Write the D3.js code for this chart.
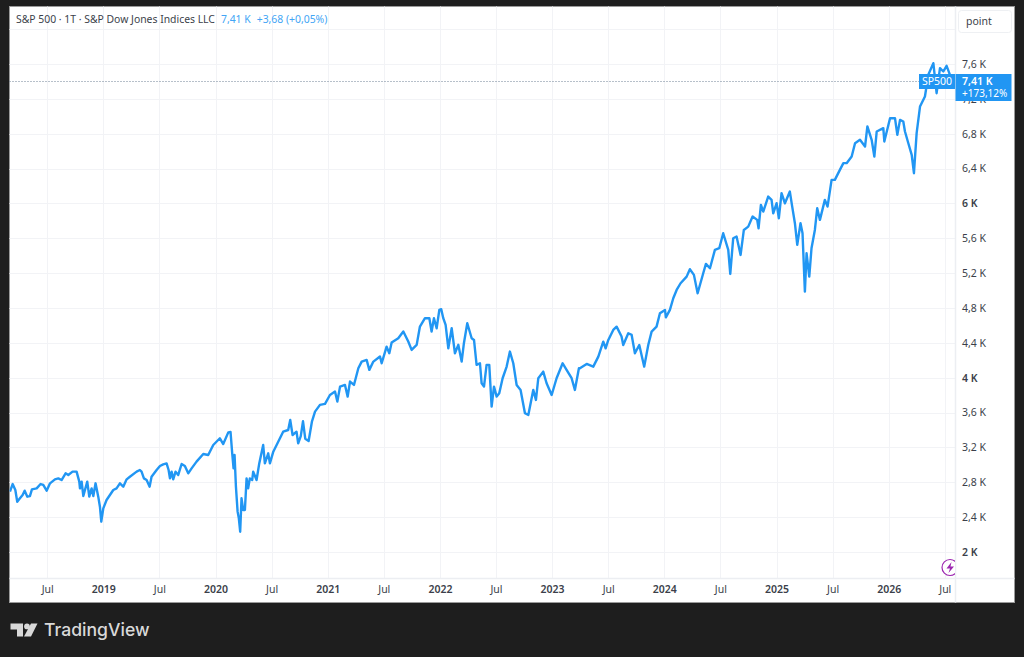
<!DOCTYPE html>
<html>
<head>
<meta charset="utf-8">
<script src="https://cdn.jsdelivr.net/npm/d3@7"></script>
<style>
  html, body { margin: 0; padding: 0; background: #1e1e1e; }
  svg { display: block; }
  text { font-family: "Noto Sans", "Open Sans", sans-serif; }
</style>
</head>
<body>
<div id="graph"></div>
<script>
// position in calendar years of each reading
var years = [
  2018.168,2018.192,2018.216,2018.233,2018.257,2018.281,2018.299,2018.323,2018.346,2018.364,
  2018.406,2018.441,2018.465,2018.495,2018.525,2018.569,2018.599,2018.628,2018.664,2018.688,
  2018.726,2018.762,2018.786,2018.792,2018.807,2018.822,2018.857,2018.875,2018.896,2018.911,
  2018.931,2018.955,2018.970,2018.982,2019.000,2019.029,2019.089,2019.118,2019.148,2019.178,
  2019.208,2019.237,2019.297,2019.326,2019.341,2019.362,2019.386,2019.413,2019.430,2019.475,
  2019.505,2019.534,2019.564,2019.582,2019.594,2019.609,2019.623,2019.644,2019.668,2019.698,
  2019.727,2019.757,2019.787,2019.831,2019.891,2019.935,2019.980,2020.039,2020.069,2020.114,
  2020.134,2020.149,2020.161,2020.170,2020.182,2020.197,2020.208,2020.220,2020.232,2020.247,
  2020.262,2020.277,2020.291,2020.306,2020.327,2020.336,2020.366,2020.390,2020.425,2020.440,
  2020.470,2020.485,2020.515,2020.559,2020.603,2020.648,2020.666,2020.687,2020.722,2020.737,
  2020.760,2020.780,2020.800,2020.830,2020.860,
  2020.887,2020.931,2020.976,2021.020,2021.065,2021.086,2021.110,2021.154,2021.178,2021.199,
  2021.234,2021.273,2021.303,2021.347,2021.371,2021.407,2021.466,2021.481,2021.525,2021.549,
  2021.570,2021.629,2021.674,2021.718,2021.748,2021.793,2021.822,2021.867,2021.906,2021.926,
  2021.947,2021.971,2021.995,2022.012,2022.030,2022.051,2022.075,2022.105,2022.134,2022.164,
  2022.194,2022.214,2022.244,2022.283,2022.304,2022.327,2022.357,2022.372,2022.393,2022.416,
  2022.440,2022.461,2022.482,2022.506,2022.529,2022.559,2022.595,2022.624,2022.654,2022.684,
  2022.719,2022.758,2022.788,2022.832,2022.856,2022.877,2022.921,2022.951,2022.996,2023.040,
  2023.094,2023.129,2023.174,2023.203,2023.239,
  2023.248,2023.308,2023.367,2023.412,2023.456,2023.477,2023.501,2023.545,2023.575,2023.619,
  2023.634,2023.679,2023.709,2023.738,2023.777,2023.821,2023.857,2023.887,2023.931,2023.961,
  2024.006,2024.014,2024.050,2024.080,2024.110,2024.145,2024.199,2024.228,2024.264,2024.297,
  2024.347,2024.371,2024.407,2024.451,2024.490,2024.525,2024.570,2024.588,2024.614,2024.644,
  2024.680,2024.709,2024.748,2024.787,2024.828,2024.840,2024.861,2024.882,2024.926,2024.956,
  2024.971,2025.001,2025.021,2025.045,2025.075,2025.119,2025.140,2025.164,2025.185,2025.214,
  2025.232,2025.253,2025.268,2025.292,2025.312,2025.342,2025.363,2025.387,2025.431,2025.455,
  2025.491,2025.520,2025.565,
  2025.596,2025.625,2025.670,2025.700,2025.744,2025.789,2025.810,2025.848,2025.872,2025.893,
  2025.952,2025.961,2026.012,2026.056,2026.077,2026.101,2026.130,2026.145,2026.175,2026.205,
  2026.225,2026.249,2026.279,2026.323,2026.353,2026.398,2026.427,2026.457,2026.487,2026.516,
  2026.546,2026.555
];

// S&P 500 close
var closes = [
  2692,2780,2711,2577,2616,2654,2704,2635,2642,2719,
  2730,2780,2769,2704,2788,2834,2845,2826,2903,2884,
  2922,2922,2807,2730,2807,2642,2807,2635,2730,2642,
  2788,2635,2520,2348,2501,2597,2711,2730,2788,2750,
  2834,2864,2922,2941,2922,2845,2826,2750,2864,2941,
  2987,3006,3017,2941,2845,2922,2834,2922,2884,3010,
  2987,2903,2960,3037,3125,3113,3228,3305,3239,3373,
  3377,3132,2960,3113,2750,2463,2386,2233,2616,2482,
  2482,2845,2730,2845,2826,2922,2826,3017,3228,3017,
  3132,3017,3151,3266,3381,3400,3515,3343,3381,3247,
  3330,3500,3300,3274,3500,
  3611,3688,3699,3802,3841,3726,3898,3917,3783,3956,
  3917,4109,4185,4204,4090,4185,4243,4166,4357,4281,
  4403,4453,4530,4415,4319,4377,4587,4683,4683,4530,
  4683,4568,4778,4786,4683,4606,4338,4568,4281,4377,
  4185,4396,4625,4453,4434,4147,4166,3936,3898,4147,
  4147,3669,3898,3783,3822,3994,4128,4300,4166,3917,
  3860,3592,3573,3860,3745,3994,4070,3936,3802,3994,
  4166,4090,3994,3860,4109,
  4108,4158,4127,4242,4414,4338,4433,4548,4586,4472,
  4376,4510,4491,4280,4376,4127,4376,4529,4586,4739,
  4778,4693,4778,4912,5007,5084,5160,5245,5180,4969,
  5199,5306,5256,5467,5486,5658,5467,5191,5600,5620,
  5409,5696,5734,5849,5811,5715,5983,5907,6079,6041,
  5887,6002,5830,6117,6002,6136,5964,5773,5524,5773,
  5658,4988,5428,5160,5486,5696,5945,5811,6041,5964,
  6270,6270,6385,
  6462,6462,6538,6691,6730,6653,6883,6730,6538,6825,
  6864,6711,6978,6978,6787,6959,6940,6825,6691,6557,
  6347,6806,7112,7227,7476,7610,7265,7552,7514,7579,
  7476,7410
];

var yTicks = [2000,2400,2800,3200,3600,4000,4400,4800,5200,5600,6000,6400,6800,7200,7600,8000];
var yLabels = ['2 K','2,4 K','2,8 K','3,2 K','3,6 K','4 K','4,4 K','4,8 K','5,2 K','5,6 K','6 K','6,4 K','6,8 K','7,2 K','7,6 K',''];
var xTicks = [2018.5,2019,2019.5,2020,2020.5,2021,2021.5,2022,2022.5,2023,2023.5,2024,2024.5,2025,2025.5,2026,2026.5];
var xLabels = ['Jul','2019','Jul','2020','Jul','2021','Jul','2022','Jul','2023','Jul','2024','Jul','2025','Jul','2026','Jul'];
var lastPrice = 7410;

var width = 1024;
var height = 657;
var panel = {left: 9.5, top: 6.5, right: 1014.5, bottom: 602.5};
var plotRight = 955;
var plotBottom = 578.5;
var blue = '#2196f3';

var svg = d3.select('#graph').append('svg')
    .attr('width', width)
    .attr('height', height);

svg.append('rect')
    .attr('x', panel.left).attr('y', panel.top)
    .attr('width', panel.right - panel.left)
    .attr('height', panel.bottom - panel.top)
    .attr('fill', '#fff')
    .attr('stroke', '#9a9a9a');

// 2019 and 2026 gridlines were measured, the rest follows from them
var xScale = d3.scaleLinear().domain([2019, 2026]).range([103.3, 888.7]);
var yScale = d3.scaleLinear().domain([2000, 7600]).range([552, 64]);

svg.append('clipPath').attr('id', 'plot').append('rect')
    .attr('x', panel.left).attr('y', panel.top)
    .attr('width', plotRight - panel.left)
    .attr('height', plotBottom - panel.top);

var grid = svg.append('g').attr('stroke', '#f2f3f6').attr('stroke-width', 1);
grid.selectAll('.gx').data(xTicks).enter().append('line')
    .attr('x1', function(d) { return Math.round(xScale(d)) + 0.5; })
    .attr('x2', function(d) { return Math.round(xScale(d)) + 0.5; })
    .attr('y1', panel.top).attr('y2', plotBottom);
grid.selectAll('.gy').data(yTicks).enter().append('line')
    .attr('x1', panel.left).attr('x2', plotRight)
    .attr('y1', function(d) { return Math.round(yScale(d)) + 0.5; })
    .attr('y2', function(d) { return Math.round(yScale(d)) + 0.5; });

// last price dotted line
svg.append('line')
    .attr('x1', panel.left).attr('x2', plotRight)
    .attr('y1', Math.round(yScale(lastPrice)) + 0.5).attr('y2', Math.round(yScale(lastPrice)) + 0.5)
    .attr('stroke', '#6f8194').attr('stroke-width', 1)
    .attr('stroke-dasharray', '1 2');

var line = d3.line()
    .x(function(d, i) { return xScale(years[i]); })
    .y(function(d) { return yScale(d); });

svg.append('path')
    .attr('clip-path', 'url(#plot)')
    .attr('d', line(closes))
    .attr('fill', 'none')
    .attr('stroke', blue)
    .attr('stroke-width', 2.4)
    .attr('stroke-linejoin', 'round');

// axis separators
svg.append('line').attr('x1', plotRight + 0.5).attr('x2', plotRight + 0.5)
    .attr('y1', panel.top).attr('y2', panel.bottom)
    .attr('stroke', '#eceef2').attr('stroke-width', 1.5);
svg.append('line').attr('x1', panel.left).attr('x2', panel.right)
    .attr('y1', plotBottom).attr('y2', plotBottom)
    .attr('stroke', '#eceef2').attr('stroke-width', 1.5);

// axes: the library draws the labels, the frame is drawn above
var xAxis = d3.axisBottom(xScale)
    .tickValues(xTicks)
    .tickSize(0)
    .tickPadding(7)
    .tickFormat(function(d, i) { return xLabels[i]; });
var xg = svg.append('g').attr('transform', 'translate(0,' + plotBottom + ')').call(xAxis);
xg.select('.domain').remove();
xg.selectAll('text')
    .style('font-family', '"Noto Sans", sans-serif')
    .style('font-size', '10.5px')
    .style('font-weight', function(d, i) { return xLabels[i] === 'Jul' ? 400 : 600; })
    .attr('fill', '#3b3f4a');

var yAxis = d3.axisRight(yScale)
    .tickValues(yTicks)
    .tickSize(0)
    .tickPadding(7)
    .tickFormat(function(d, i) { return yLabels[i]; });
var yg = svg.append('g').attr('transform', 'translate(' + plotRight + ',0)').call(yAxis);
yg.select('.domain').remove();
yg.selectAll('text')
    .style('font-family', '"Noto Sans", sans-serif')
    .style('font-size', '10.5px')
    .style('font-weight', function(d, i) { return yLabels[i].length < 4 ? 600 : 400; })
    .attr('fill', '#3b3f4a');

// legend
var legend = svg.append('text').attr('x', 16).attr('y', 23).attr('font-size', 10.4);
legend.append('tspan').attr('fill', '#3b3f4a').text('S&P 500 · 1T · S&P Dow Jones Indices LLC');
legend.append('tspan').attr('fill', '#42a5f5').attr('dx', 6).text('7,41 K');
legend.append('tspan').attr('fill', '#42a5f5').attr('dx', 6).text('+3,68 (+0,05%)');

// scale button
svg.append('rect')
    .attr('x', 958.5).attr('y', 10.5).attr('width', 53).attr('height', 22).attr('rx', 3)
    .attr('fill', '#fff').attr('stroke', '#eef0f3');
svg.append('text').attr('x', 966).attr('y', 25).attr('font-size', 10.5).attr('fill', '#3b3f4a').text('point');

// price labels
svg.append('rect').attr('x', 919).attr('y', 74).attr('width', 36).attr('height', 15).attr('fill', blue);
svg.append('text').attr('x', 937).attr('y', 85).attr('font-size', 10.5).attr('text-anchor', 'middle')
    .attr('fill', '#fff').text('SP500');
svg.append('rect').attr('x', 955.5).attr('y', 74).attr('width', 56).attr('height', 27).attr('fill', blue);
svg.append('text').attr('x', 962).attr('y', 85).attr('font-size', 10.5).attr('font-weight', 600)
    .attr('fill', '#fff').text('7,41 K');
svg.append('text').attr('x', 962).attr('y', 97).attr('font-size', 10).attr('fill', '#fff').text('+173,12%');

// bolt badge, cut off by the price axis
var badge = svg.append('g').attr('clip-path', 'url(#plot)');
badge.append('circle').attr('cx', 950).attr('cy', 567.5).attr('r', 8)
    .attr('fill', '#fff').attr('stroke', '#9c27b0').attr('stroke-width', 1.2);
badge.append('path')
    .attr('d', 'M951.5 562 L946.5 568.5 L950 568.5 L948.5 573 L954 566.5 L950.5 566.5 Z')
    .attr('fill', '#9c27b0');

// TradingView mark
var logo = svg.append('g').attr('fill', '#d9d9d9');
logo.append('path').attr('d', 'M10.5 623.5 H23 V636.5 H17 V629.5 H10.5 Z');
logo.append('circle').attr('cx', 27).attr('cy', 626.4).attr('r', 2.9);
logo.append('path').attr('d', 'M31 623.5 H37.5 L31 636.5 H24 Z');
svg.append('text').attr('x', 44).attr('y', 636).attr('font-size', 17.6).attr('font-weight', 500)
    .attr('fill', '#d9d9d9').style('font-family', 'Inter, sans-serif').text('TradingView');
</script>
</body>
</html>
